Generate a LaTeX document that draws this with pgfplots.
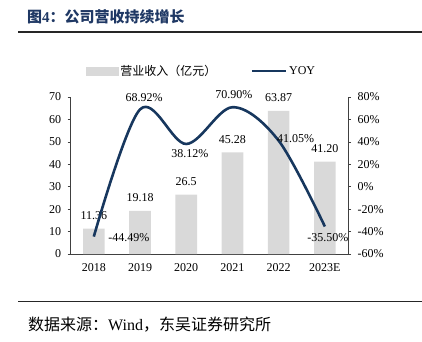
\documentclass[border=0pt]{standalone}
\usepackage{fontspec}
\setmainfont{Liberation Serif}
\newfontfamily\cjk{Noto Sans CJK SC}
\usepackage{pgfplots}
\pgfplotsset{compat=1.18}
\definecolor{barc}{HTML}{D9D9D9}
\definecolor{navy}{HTML}{17375E}
\definecolor{titleblue}{HTML}{1F3864}
\begin{document}
\begin{tikzpicture}[x=1pt,y=1pt]
\path[use as bounding box] (0,0) rectangle (422,341);
\node[anchor=west, font=\fontsize{15}{18}\selectfont\bfseries, text=titleblue, inner sep=0pt] at (27,324) {{\cjk 图}4{\cjk ：公司营收持续增长}};
\draw[line width=2pt, black!85] (18,309.5) -- (422,309.5);
\draw[line width=1.5pt, black!85] (18,39.5) -- (422,39.5);
\node[anchor=west, font=\fontsize{16}{18}\selectfont, inner sep=0pt] at (28,16) {{\cjk 数据来源：}Wind{\cjk ，东吴证券研究所}};

\begin{axis}[
  at={(70.7pt,87pt)}, anchor=south west, scale only axis,
  width=277.3pt, height=157pt,
  xmin=-0.5, xmax=5.5, ymin=0, ymax=70,
  axis x line*=bottom, axis y line*=left,
  axis line style={black!75, line width=0.6pt},
  tick align=outside, major tick length=3pt,
  tick style={black!75, line width=0.6pt},
  ytick={0,10,...,70},
  xtick={0,1,2,3,4,5},
  xticklabels={2018,2019,2020,2021,2022,2023E},
  xtick style={draw=none},
  extra x ticks={0.5,1.5,2.5,3.5,4.5,5.5},
  extra x tick labels={},
  extra x tick style={tick align=inside, major tick length=4pt, tick style={draw=black!75}},
  ticklabel style={font=\fontsize{12}{14}\selectfont},
  yticklabel style={xshift=-3pt},
  xticklabel style={yshift=-3pt},
  /pgf/number format/assume math mode=true,
  clip=false,
]
\addplot[ybar, bar width=21.6pt, fill=barc, draw=none,
  nodes near coords, point meta=explicit symbolic,
  nodes near coords style={font=\fontsize{12}{14}\selectfont, text=black, inner sep=2pt, yshift=7pt}]
  coordinates {(0,11.36)[11.36] (1,19.18)[19.18] (2,26.5)[26.5] (3,45.28)[45.28] (4,63.87)[63.87] (5,41.20)[41.20]};
\end{axis}

\begin{axis}[
  at={(70.7pt,87pt)}, anchor=south west, scale only axis,
  width=277.3pt, height=157pt,
  xmin=-0.5, xmax=5.5, ymin=-60, ymax=80,
  axis y line*=right, axis x line=none,
  axis line style={black!75, line width=0.6pt},
  tick align=outside, major tick length=3pt,
  tick style={black!75, line width=0.6pt},
  ytick={-60,-40,...,80},
  yticklabel={\pgfmathprintnumber{\tick}\%},
  ticklabel style={font=\fontsize{12}{14}\selectfont},
  yticklabel style={xshift=3pt},
  /pgf/number format/assume math mode=true,
  clip=false,
  legend columns=2,
  legend style={at={(0.472,1.166)}, anchor=center, draw=none, fill=none,
    font=\fontsize{12}{14}\selectfont, /tikz/every even column/.append style={column sep=32pt}},
]
\addlegendimage{legend image code/.code={\fill[barc] (0pt,-4.2pt) rectangle (32pt,4.2pt);}}
\addlegendentry{\cjk 营业收入（亿元）}
\addplot[navy, line width=2.6pt, smooth, tension=0.55,
  legend image code/.code={\draw[navy, line width=2.6pt] (0pt,0pt) -- (34pt,0pt);}]
  coordinates {(0,-44.49) (1,68.92) (2,38.12) (3,70.90) (4,41.05) (5,-35.50)};
\addlegendentry{YOY}
\node[font=\fontsize{12}{14}\selectfont] at (axis cs:0.761,-45.7) {-44.49\%};
\node[font=\fontsize{12}{14}\selectfont] at (axis cs:1.086,79.1) {68.92\%};
\node[font=\fontsize{12}{14}\selectfont] at (axis cs:2.081,29.2) {38.12\%};
\node[font=\fontsize{12}{14}\selectfont] at (axis cs:3.033,81.8) {70.90\%};
\node[font=\fontsize{12}{14}\selectfont] at (axis cs:4.364,42.5) {41.05\%};
\node[font=\fontsize{12}{14}\selectfont] at (axis cs:5.067,-45.7) {-35.50\%};
\end{axis}
\end{tikzpicture}
\end{document}
